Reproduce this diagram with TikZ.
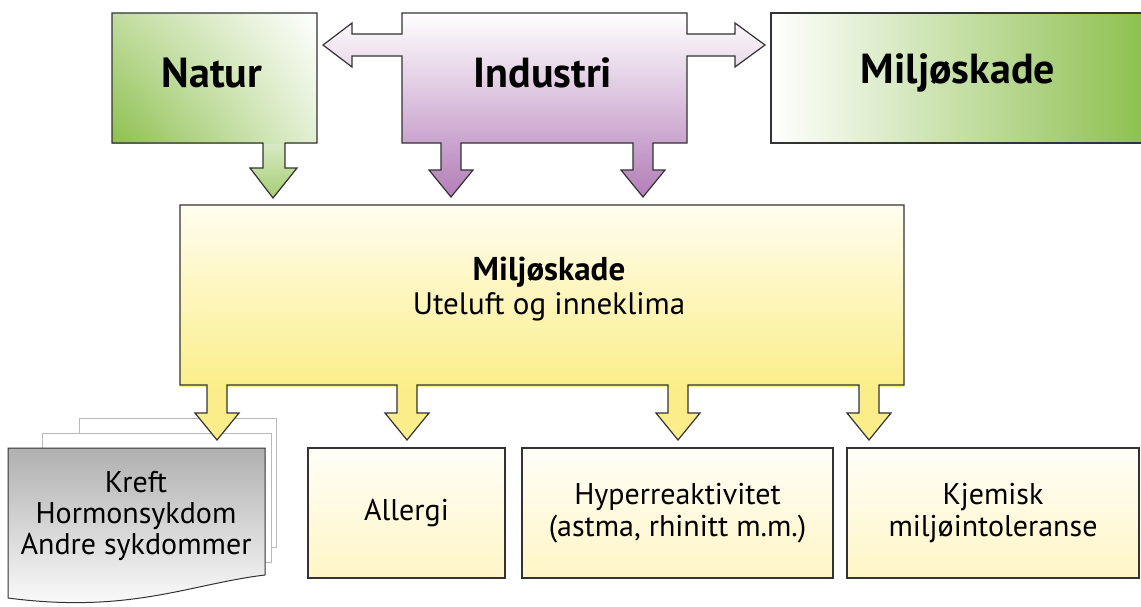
\documentclass[tikz,border=0pt]{standalone}
\usepackage{fontspec}
\setmainfont{PT Sans}
\usetikzlibrary{shadings}
\definecolor{natgreen}{HTML}{8DC04F}
\definecolor{purp}{HTML}{B37EB8}
\definecolor{yel}{HTML}{FBEE8A}
\definecolor{yellight}{HTML}{FFFDF0}
\definecolor{botlight}{HTML}{FFFEF7}
\definecolor{botdark}{HTML}{FFF5C6}
\definecolor{edge}{HTML}{333333}
\begin{document}
\begin{tikzpicture}[x={(1pt,0)},y={(0,-1pt)},
  outline/.style={draw=edge,line width=1.2pt,line join=miter},
  bigtxt/.style={font=\fontsize{42}{48}\selectfont\bfseries,inner sep=0pt},
  midtxt/.style={font=\fontsize{30}{31}\selectfont,align=center,inner sep=0pt},
  botbox/.style={outline,top color=botlight,bottom color=botdark,inner sep=0pt,align=center,font=\fontsize{30}{32}\selectfont},
  sheet/.style={draw=gray!55,fill=white,line width=0.9pt}]
\useasboundingbox (0,0) rectangle (1141,606);

% ---- Natur group ----
\shade[top color=natgreen!30,bottom color=natgreen!80]
  (285,140) -- (285,168) -- (297,168) -- (273,198) -- (250,168) -- (263,168) -- (263,140) -- cycle;
\shade[lower left=natgreen,upper left=natgreen!55,upper right=white,lower right=natgreen!25]
  (112,13) rectangle (317,143);
\draw[outline] (112,13) -- (317,13) -- (317,143) -- (285,143) -- (285,168) -- (297,168) -- (273,198)
  -- (250,168) -- (263,168) -- (263,143) -- (112,143) -- cycle;
\node[bigtxt] (natur) at (212,73) {Natur};

% ---- Industri group ----
\shade[top color=white,bottom color=purp,outline]
  (402,13) -- (687,13) -- (687,34) -- (735,34) -- (735,23) -- (765,45) -- (735,67) -- (735,56)
  -- (687,56) -- (687,143) -- (653,143) -- (653,170) -- (665,170) -- (643,197) -- (621,170)
  -- (633,170) -- (633,143) -- (461,143) -- (461,170) -- (473,170) -- (451,197) -- (429,170)
  -- (441,170) -- (441,143) -- (402,143) -- (402,56) -- (352,56) -- (352,67) -- (323,45)
  -- (352,23) -- (352,34) -- (402,34) -- cycle;
\node[bigtxt] (industri) at (543,73) {Industri};

% ---- Miljoskade top ----
\draw[outline,left color=white,right color=natgreen] (771,13) rectangle (1146,143);
\node[bigtxt] (miljo) at (958,73) {Miljøskade};

% ---- stacked sheets ----
\draw[sheet] (79,418) rectangle (276,547);
\draw[sheet] (42,433) rectangle (271,562);
\draw[outline,line width=1pt,top color=gray!62,bottom color=white]
  (8,448) -- (265,448) -- (265,575) .. controls (190,584) and (130,614) .. (8,598) -- cycle;
\node[midtxt] (kreft) at (136,516) {Kreft\\Hormonsykdom\\Andre sykdommer};

% ---- central yellow group ----
\fill[yel] (180,205) -- (904,205) -- (904,385)
  \foreach \c in {869,678,407,217} { -- (\c+10,385) -- (\c+10,413) -- (\c+22,413) -- (\c,440) -- (\c-22,413) -- (\c-10,413) -- (\c-10,385) }
  -- (180,385) -- cycle;
\shade[top color=yellight,bottom color=yel] (180,205) rectangle (904,386);
\draw[outline] (180,205) -- (904,205) -- (904,385)
  \foreach \c in {869,678,407,217} { -- (\c+10,385) -- (\c+10,413) -- (\c+22,413) -- (\c,440) -- (\c-22,413) -- (\c-10,413) -- (\c-10,385) }
  -- (180,385) -- cycle;
\node[align=center,inner sep=0pt,font=\fontsize{31}{34}\selectfont] (center) at (549,289)
  {{\fontsize{33}{34}\selectfont\bfseries Miljøskade}\\Uteluft og inneklima};

% ---- bottom boxes ----
\node[botbox,minimum width=197pt,minimum height=130pt] (allergi) at (406.5,513) {Allergi};
\node[botbox,minimum width=311pt,minimum height=130pt] (hyper) at (677.5,513) {Hyperreaktivitet\\(astma, rhinitt m.m.)};
\node[botbox,minimum width=292pt,minimum height=130pt] (kjemisk) at (993,513) {Kjemisk\\miljøintoleranse};
\end{tikzpicture}
\end{document}
